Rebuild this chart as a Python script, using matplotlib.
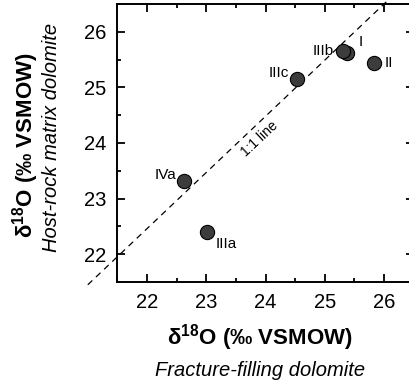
import matplotlib
matplotlib.use("Agg")
import matplotlib.pyplot as plt
from matplotlib.ticker import MultipleLocator

plt.rcParams["font.family"] = ["Liberation Sans", "DejaVu Sans"]
plt.rcParams["mathtext.fontset"] = "custom"
plt.rcParams["mathtext.rm"] = "Liberation Sans"
plt.rcParams["mathtext.bf"] = "Liberation Sans:bold"

# fracture-filling vs host-rock matrix dolomite, d18O (permil VSMOW)
labels = ["I", "II", "IIIa", "IIIb", "IIIc", "IVa"]
fracture_d18o = [25.38, 25.83, 23.01, 25.30, 24.53, 22.63]
host_d18o = [25.61, 25.43, 22.40, 25.66, 25.16, 23.32]
# label offsets in points (dx, dy) and alignment
label_pos = {
    "I": ((8, 8), "left"),
    "II": ((8, 0), "left"),
    "IIIa": ((6, -9), "left"),
    "IIIb": ((-6, 0), "right"),
    "IIIc": ((-6, 4), "right"),
    "IVa": ((-6, 4), "right"),
}
line_x = [21.0, 26.05]
line_y = [21.45, 26.55]

fig = plt.figure(figsize=(4.09, 3.81), dpi=100)
ax = fig.add_axes([117.4 / 409, 1 - 282 / 381, 296.2 / 409, 278 / 381])

ax.plot(line_x, line_y, ls=(0, (5, 4)), color="black", lw=0.9, clip_on=False, zorder=1)
ax.text(23.9, 24.08, "1:1 line", rotation=43, fontsize=10,
        ha="center", va="center")

ax.scatter(fracture_d18o, host_d18o, s=105, color="#3c3c3c",
           edgecolors="black", linewidths=0.8, zorder=3)
for lab, x, y in zip(labels, fracture_d18o, host_d18o):
    (dx, dy), ha = label_pos[lab]
    ax.annotate(lab, (x, y), xytext=(dx, dy), textcoords="offset points",
                ha=ha, va="center", fontsize=11)

ax.set_xlim(21.5, 26.5)
ax.set_ylim(21.5, 26.5)
ax.xaxis.set_major_locator(MultipleLocator(1))
ax.yaxis.set_major_locator(MultipleLocator(1))
ax.xaxis.set_minor_locator(MultipleLocator(0.5))
ax.yaxis.set_minor_locator(MultipleLocator(0.5))
ax.tick_params(which="both", direction="in", top=True, right=True,
               labelsize=14.5, width=1.3)
ax.tick_params(which="major", length=6, pad=8)
ax.tick_params(which="minor", length=3)
for sp in ax.spines.values():
    sp.set_linewidth(1.4)

xlabel = r"δ$^{\mathbf{18}}$O (‰ VSMOW)"
fig.text(259.5 / 409, 1 - 338 / 381, xlabel,
         ha="center", va="center", fontsize=16, fontweight="bold")
fig.text(260 / 409, 1 - 371 / 381, "Fracture-filling dolomite",
         ha="center", va="center", fontsize=14.5, style="italic")
fig.text(26 / 409, 1 - 145 / 381, xlabel,
         ha="center", va="center", fontsize=16, fontweight="bold", rotation=90)
fig.text(52 / 409, 1 - 137 / 381, "Host-rock matrix dolomite",
         ha="center", va="center", fontsize=14.5, style="italic", rotation=90)

fig.savefig("out.png", dpi=100)
